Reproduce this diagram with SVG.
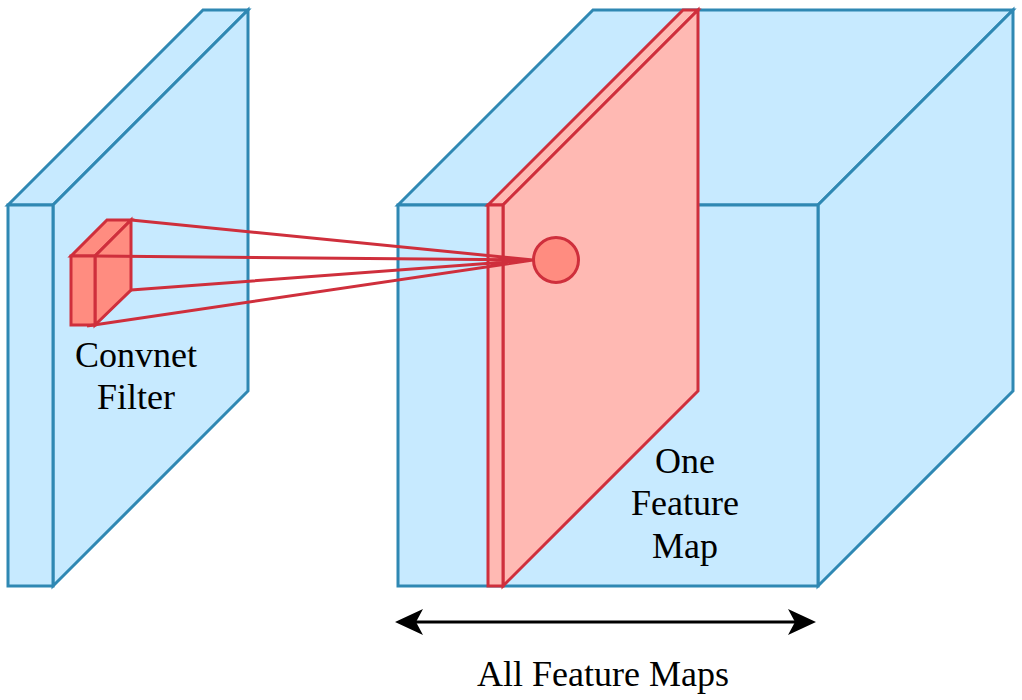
<svg xmlns="http://www.w3.org/2000/svg" width="1022" height="700" viewBox="0 0 1022 700">
<style>
.b{fill:#c7eaff;stroke:#2f88b3;stroke-width:3;stroke-linejoin:miter}
.r{fill:#ffb9b3;stroke:#cf2f3c;stroke-width:3;stroke-linejoin:miter}
.f{fill:#ff8c80;stroke:#cf2f3c;stroke-width:3;stroke-linejoin:miter}
.l{fill:none;stroke:#cf2f3c;stroke-width:3}
text{font-family:"Liberation Serif","Times New Roman",serif;font-size:36px;fill:#000;text-anchor:middle}
</style>
<rect width="1022" height="700" fill="#fff"/>
<g id="input-volume">
<path class="b" d="M8 205 L203 10 H248 L53 205 Z"/>
<path class="b" d="M53 205 L248 10 V391 L53 586 Z"/>
<rect class="b" x="8" y="205" width="45" height="381"/>
</g>
<g id="output-volume">
<path class="b" d="M398 205 L593 10 H1013 L818 205 Z"/>
<path class="b" d="M818 205 L1013 10 V391 L818 586 Z"/>
<rect class="b" x="398" y="205" width="420" height="381"/>
</g>
<g id="feature-map">
<path class="r" d="M488 205 L683 10 H698 L503 205 Z"/>
<path class="r" d="M503 205 L698 10 V391 L503 586 Z"/>
<rect class="r" x="488" y="205" width="15" height="381"/>
</g>
<g id="filter">
<path class="f" d="M71 256 L107 220 H131 L95 256 Z"/>
<path class="f" d="M95 256 L131 220 V290 L95 325 Z"/>
<rect class="f" x="71" y="256" width="24" height="69"/>
</g>
<g id="connectors">
<path class="l" d="M131 220 L533 260 M95 256 L533 260 M131 290 L533 260 M87 326 L533 260"/>
<path d="M503 256 L533 260 L503 264 Z" fill="#cf2f3c"/>
</g>
<g id="activation"><circle class="f" cx="556" cy="260" r="22.5"/></g>
<g id="dimension-arrow">
<line x1="412" y1="622" x2="800" y2="622" stroke="#000" stroke-width="3"/>
<path d="M395 622 L423 609 L416 622 L423 635 Z"/>
<path d="M816 622 L788 609 L795 622 L788 635 Z"/>
</g>
<g id="labels">
<text x="136" y="367">Convnet</text>
<text x="136" y="409">Filter</text>
<text x="685" y="473">One</text>
<text x="685" y="515">Feature</text>
<text x="685" y="558">Map</text>
<text x="603" y="686">All Feature Maps</text>
</g>
</svg>
